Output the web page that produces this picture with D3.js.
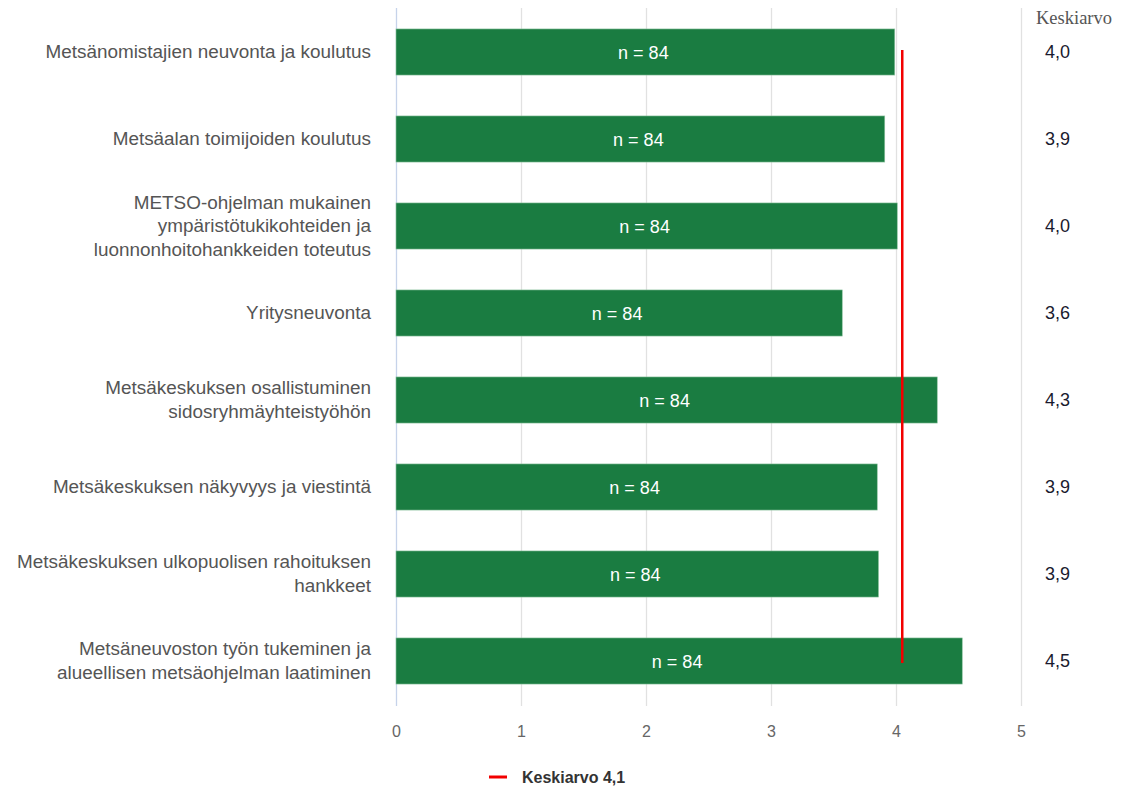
<!DOCTYPE html>
<html>
<head>
<meta charset="utf-8">
<style>
  body { margin: 0; background: #fff; }
  text { font-family: "Liberation Sans", Arial, sans-serif; }
</style>
</head>
<body>
<svg id="chart" width="1137" height="789"></svg>

<script src="https://d3js.org/d3.v7.min.js"></script>
<script>
  // data
  var categories = [
    ["Metsänomistajien neuvonta ja koulutus"],
    ["Metsäalan toimijoiden koulutus"],
    ["METSO-ohjelman mukainen", "ympäristötukikohteiden ja", "luonnonhoitohankkeiden toteutus"],
    ["Yritysneuvonta"],
    ["Metsäkeskuksen osallistuminen", "sidosryhmäyhteistyöhön"],
    ["Metsäkeskuksen näkyvyys ja viestintä"],
    ["Metsäkeskuksen ulkopuolisen rahoituksen", "hankkeet"],
    ["Metsäneuvoston työn tukeminen ja", "alueellisen metsäohjelman laatiminen"]
  ];
  var values = [3.99, 3.91, 4.01, 3.57, 4.33, 3.85, 3.86, 4.53];
  var meanLabels = ["4,0", "3,9", "4,0", "3,6", "4,3", "3,9", "3,9", "4,5"];
  var nLabels = ["n = 84", "n = 84", "n = 84", "n = 84", "n = 84", "n = 84", "n = 84", "n = 84"];
  var overallMean = 4.05;
  var xTicks = [0, 1, 2, 3, 4, 5];

  var svg = d3.select("#chart");

  var x = d3.scaleLinear().domain([0, 5]).range([396, 1021]);
  var y = d3.scaleBand()
    .domain(d3.range(categories.length))
    .range([8.5, 704.5])
    .paddingInner(0.47)
    .paddingOuter(0.235);

  // gridlines
  svg.append("g")
    .selectAll("line")
    .data(xTicks)
    .enter()
    .append("line")
    .attr("x1", function (d) { return x(d) + 0.5 })
    .attr("x2", function (d) { return x(d) + 0.5 })
    .attr("y1", 8)
    .attr("y2", 706)
    .style("stroke", function (d) { return d === 0 ? "#c6d3ea" : "#e1e1e1" })
    .style("stroke-width", 1.3);

  // axis labels
  var xAxis = svg.append("g")
    .attr("transform", "translate(0,706)")
    .call(d3.axisBottom(x).tickValues(xTicks).tickSize(0).tickPadding(20).tickFormat(d3.format("d")));
  xAxis.select(".domain").remove();
  xAxis.selectAll("text")
    .style("font-size", "16px")
    .style("fill", "#666")
    .style("font-family", "'Liberation Sans', Arial, sans-serif");

  // bars
  svg.append("g")
    .selectAll("rect")
    .data(values)
    .enter()
    .append("rect")
    .attr("x", x(0))
    .attr("y", function (d, i) { return y(i) })
    .attr("width", function (d) { return x(d) - x(0) })
    .attr("height", y.bandwidth())
    .style("fill", "#1a7c41")
    .style("stroke", "#8fc4a0")
    .style("stroke-width", 0.6);

  // n labels
  svg.append("g")
    .selectAll("text")
    .data(nLabels)
    .enter()
    .append("text")
    .attr("x", function (d, i) { return (x(0) + x(values[i])) / 2 - 2 })
    .attr("y", function (d, i) { return y(i) + y.bandwidth() / 2 + 7 })
    .attr("text-anchor", "middle")
    .style("font-size", "18px")
    .style("fill", "#fff")
    .text(function (d) { return d });

  // category labels
  var lineH = 23.5;
  var cat = svg.append("g")
    .selectAll("text")
    .data(categories)
    .enter()
    .append("text")
    .attr("text-anchor", "end")
    .style("font-size", "18.9px")
    .style("fill", "#555");
  cat.each(function (lines, i) {
    var cy = y(i) + y.bandwidth() / 2;
    var top = cy - (lines.length - 1) * lineH / 2 + 6;
    d3.select(this).selectAll("tspan")
      .data(lines)
      .enter()
      .append("tspan")
      .attr("x", 371)
      .attr("y", function (d, j) { return top + j * lineH })
      .text(function (d) { return d });
  });

  // mean line
  svg.append("line")
    .attr("x1", x(overallMean))
    .attr("x2", x(overallMean))
    .attr("y1", y(0) + y.bandwidth() / 2 - 2)
    .attr("y2", y(categories.length - 1) + y.bandwidth() / 2 + 2)
    .style("stroke", "#f20000")
    .style("stroke-width", 2.5);

  // Keskiarvo column
  svg.append("text")
    .attr("x", 1036)
    .attr("y", 24)
    .style("font-family", "'Liberation Serif', 'Times New Roman', serif")
    .style("font-size", "18.5px")
    .style("fill", "#555")
    .text("Keskiarvo");

  svg.append("g")
    .selectAll("text")
    .data(meanLabels)
    .enter()
    .append("text")
    .attr("x", 1045)
    .attr("y", function (d, i) { return y(i) + y.bandwidth() / 2 + 6 })
    .style("font-size", "18px")
    .style("fill", "#1a1a2e")
    .text(function (d) { return d });

  // legend
  svg.append("line")
    .attr("x1", 489).attr("x2", 507)
    .attr("y1", 777).attr("y2", 777)
    .style("stroke", "#f20000")
    .style("stroke-width", 3);
  svg.append("text")
    .attr("x", 522)
    .attr("y", 783)
    .style("font-size", "16px")
    .style("font-weight", "bold")
    .style("fill", "#333")
    .text("Keskiarvo " + String(Math.round(overallMean * 10) / 10).replace(".", ","));
</script>
</body>
</html>
